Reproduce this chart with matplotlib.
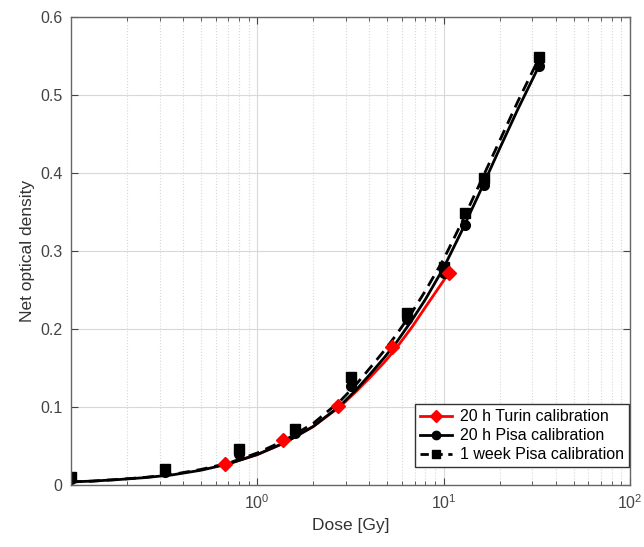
import matplotlib.pyplot as plt
from matplotlib.lines import Line2D
from matplotlib.ticker import LogLocator, NullFormatter

plt.rcParams['font.family'] = ['Liberation Sans', 'DejaVu Sans']

# Measured points
turin_dose = [0.67, 1.37, 2.73, 5.3, 10.7]
turin_od = [0.027, 0.058, 0.101, 0.177, 0.272]

pisa_dose = [0.1, 0.32, 0.8, 1.6, 3.2, 6.4, 10, 13, 16.4, 32.7]
pisa20h_od = [0.008, 0.017, 0.040, 0.067, 0.127, 0.213, 0.272, 0.333, 0.385, 0.537]
pisa1w_od = [0.010, 0.020, 0.046, 0.072, 0.138, 0.220, 0.280, 0.348, 0.393, 0.548]

# Fit curves
fit_dose = [0.1, 0.13, 0.18, 0.25, 0.35, 0.5, 0.7, 1.0, 1.4, 2.0, 2.8, 3.4, 4.0, 4.8, 5.6, 6.8, 8.0, 10,
            12.5, 16, 20, 25, 32.7]
fit_pisa20h = [0.004, 0.005, 0.007, 0.0095, 0.013, 0.019, 0.027, 0.039, 0.054, 0.075, 0.102, 0.122, 0.141, 0.163,
               0.183, 0.212, 0.238, 0.278, 0.325, 0.380, 0.431, 0.481, 0.538]
fit_pisa1w = [0.004, 0.005, 0.0072, 0.0098, 0.0135, 0.020, 0.028, 0.041, 0.057, 0.079, 0.108, 0.129, 0.149, 0.172,
              0.193, 0.222, 0.249, 0.289, 0.336, 0.391, 0.441, 0.491, 0.548]
fit_turin_dose = [0.67, 1.0, 1.4, 2.0, 2.8, 3.4, 4.0, 4.8, 5.6, 6.8, 8.0, 10.7]
fit_turin = [0.026, 0.039, 0.054, 0.075, 0.101, 0.120, 0.137, 0.157, 0.176, 0.203, 0.228, 0.272]

fig = plt.figure(figsize=(6.44, 5.47), dpi=100)
ax = fig.add_axes([0.110, 0.1133, 0.868, 0.856])

ax.plot(fit_turin_dose, fit_turin, color='red', lw=2)
ax.plot(fit_dose, fit_pisa20h, color='black', lw=2)
ax.plot(fit_dose, fit_pisa1w, color='black', lw=2, ls=(0, (4, 2.5)))
ax.plot(pisa_dose, pisa1w_od, 's', color='black', ms=7)
ax.plot(pisa_dose, pisa20h_od, 'o', color='black', ms=7)
ax.plot(turin_dose, turin_od, 'D', color='red', ms=7)

ax.set_xscale('log')
ax.set_xlim(0.1, 100)
ax.set_ylim(0, 0.6)
ax.set_xticks([1, 10, 100])
ax.set_yticks([0, 0.1, 0.2, 0.3, 0.4, 0.5, 0.6])
ax.set_yticklabels(['0', '0.1', '0.2', '0.3', '0.4', '0.5', '0.6'])
ax.xaxis.set_minor_locator(LogLocator(base=10, subs=range(2, 10)))
ax.xaxis.set_minor_formatter(NullFormatter())

ax.grid(True, which='major', color='#d8d8d8', lw=0.8)
ax.grid(True, which='minor', axis='x', color='#d8d8d8', lw=0.8, ls=':')
ax.set_axisbelow(True)

ax.tick_params(which='both', direction='in', top=True, right=True, colors='#444444', labelsize=11.5)
ax.tick_params(which='major', length=5, pad=6)
ax.tick_params(which='minor', length=3)
for s in ax.spines.values():
    s.set_color('#666666')
    s.set_linewidth(1)

ax.set_xlabel('Dose [Gy]', fontsize=12.5, color='#333333', labelpad=4)
ax.set_ylabel('Net optical density', fontsize=12.5, color='#333333', labelpad=4)

handles = [
    Line2D([], [], color='red', lw=2, marker='D', ms=6),
    Line2D([], [], color='black', lw=2, marker='o', ms=6),
    Line2D([], [], color='black', lw=2, ls=(0, (3, 2)), marker='s', ms=6),
]
labels = ['20 h Turin calibration', '20 h Pisa calibration', '1 week Pisa calibration']
leg = ax.legend(handles, labels, loc='lower right', bbox_to_anchor=(0.998, 0.0385), fontsize=11.5,
                fancybox=False, framealpha=1, edgecolor='#333333', borderpad=0.3, labelspacing=0.25,
                handlelength=2.0, handletextpad=0.5, borderaxespad=0)
leg.get_frame().set_linewidth(1)

fig.savefig('out.png', dpi=100)
